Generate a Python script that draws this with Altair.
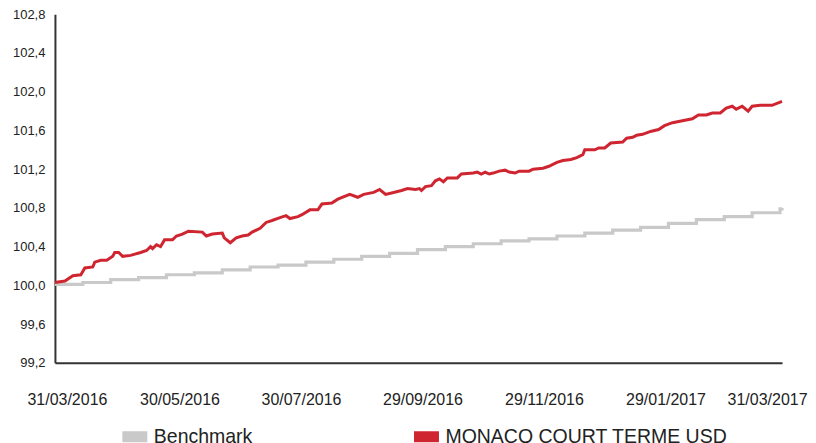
import altair as alt
import pandas as pd

START = "2016-03-31"

fund_name = "MONACO COURT TERME USD"
bench_name = "Benchmark"

fund_days = [0, 5, 9, 13, 15, 19, 20, 23, 26, 29, 30, 32, 34, 38, 43, 46, 48, 49, 51, 53,
             55, 59, 61, 64, 67, 74, 76, 79, 84, 85, 88, 91, 94, 97, 99, 103, 106, 109, 113, 116,
             118, 122, 124, 128, 132, 134, 139, 142, 148, 152, 155, 160, 163, 166, 170, 174, 177, 181, 183, 184,
             186, 189, 191, 193, 195, 197, 202, 204, 210, 212, 214, 216, 218, 220, 223, 226, 228, 231, 233, 238,
             240, 245, 248, 252, 255, 259, 262, 265, 266, 271, 273, 276, 279, 285, 287, 290, 292, 295, 299, 303,
             306, 310, 315, 320, 323, 327, 330, 334, 337, 340, 342, 345, 348, 350, 354, 360, 365]
fund_values = [100.03, 100.045, 100.10, 100.11, 100.18, 100.19, 100.24, 100.26, 100.26, 100.30,
               100.34, 100.34, 100.30, 100.31, 100.34, 100.36, 100.40, 100.38, 100.42, 100.40,
               100.47, 100.47, 100.51, 100.53, 100.56, 100.55, 100.51, 100.53, 100.54, 100.49,
               100.44, 100.49, 100.51, 100.52, 100.55, 100.59, 100.65, 100.67, 100.70, 100.72,
               100.69, 100.71, 100.73, 100.78, 100.78, 100.84, 100.85, 100.89, 100.94, 100.91,
               100.94, 100.96, 100.99, 100.94, 100.96, 100.98, 101.00, 100.99, 101.00, 100.98,
               101.02, 101.03, 101.08, 101.10, 101.07, 101.11, 101.11, 101.15, 101.16, 101.17,
               101.15, 101.17, 101.15, 101.16, 101.18, 101.19, 101.17, 101.16, 101.18, 101.18,
               101.20, 101.21, 101.23, 101.27, 101.29, 101.30, 101.32, 101.35, 101.40, 101.40,
               101.42, 101.42, 101.47, 101.48, 101.52, 101.53, 101.55, 101.56, 101.59, 101.61,
               101.65, 101.68, 101.70, 101.72, 101.76, 101.76, 101.78, 101.78, 101.83, 101.85,
               101.82, 101.85, 101.80, 101.85, 101.86, 101.86, 101.90]

bench_days = [0, 14, 28, 42, 56, 70, 84, 98, 112, 126, 140, 154, 168, 182, 196, 210, 224, 238,
              252, 266, 280, 294, 308, 322, 336, 350, 364, 365]
bench_values = [100.01, 100.03, 100.06, 100.08, 100.11, 100.13, 100.16, 100.19, 100.21, 100.24,
                100.27, 100.30, 100.33, 100.37, 100.40, 100.43, 100.46, 100.48, 100.51, 100.54,
                100.57, 100.60, 100.64, 100.68, 100.71, 100.75, 100.79, 100.80]

x_tick_dates = ["2016-03-31", "2016-05-30", "2016-07-30", "2016-09-29",
                "2016-11-29", "2017-01-29", "2017-03-31"]
y_ticks = [99.2, 99.6, 100.0, 100.4, 100.8, 101.2, 101.6, 102.0, 102.4, 102.8]

RED = "#cf2531"
GRAY = "#c9c9c9"
FONT = "Liberation Sans"

base = pd.Timestamp(START)


def to_dates(days):
    return [(base + pd.Timedelta(days=d)).strftime("%Y-%m-%d") for d in days]


df_fund = pd.DataFrame({"date": to_dates(fund_days), "value": fund_values, "series": fund_name})
df_bench = pd.DataFrame({"date": to_dates(bench_days), "value": bench_values, "series": bench_name})


def dt(s):
    y, m, d = [int(p) for p in s.split("-")]
    return alt.DateTime(year=y, month=m, date=d, utc=True)


x_enc = alt.X(
    "date:T",
    scale=alt.Scale(type="utc", domain=[dt(x_tick_dates[0]), dt(x_tick_dates[-1])], nice=False),
    axis=alt.Axis(values=[dt(s) for s in x_tick_dates], format="%d/%m/%Y", formatType="time",
                  labelFontSize=16, labelPadding=29, labelFlush=False, labelOverlap=False,
                  labelOffset=alt.ExprRef("datum.index == 0 ? 12 : (datum.index == 1 ? -15 : 5)"),
                  title=None),
)
y_enc = alt.Y(
    "value:Q",
    scale=alt.Scale(domain=[y_ticks[0], y_ticks[-1]], nice=False, zero=False),
    axis=alt.Axis(values=y_ticks, labelExpr="replace(format(datum.value, '.1f'), '.', ',')",
                  labelFontSize=13, labelPadding=10, title=None),
)
color_enc = alt.Color(
    "series:N",
    scale=alt.Scale(domain=[bench_name, fund_name], range=[GRAY, RED]),
    legend=alt.Legend(
        title=None, orient="none", legendX=62, legendY=405, direction="horizontal",
        columns=2, columnPadding=139, labelFontSize=19.5, labelFont=FONT, labelColor="#222",
        labelOffset=1, symbolType="M-1,0H1", symbolSize=625,
        symbolStrokeWidth=11, padding=0, labelLimit=400,
    ),
)

bench_line = alt.Chart(df_bench).mark_line(strokeWidth=3.2, interpolate="step-after").encode(
    x=x_enc, y=y_enc, color=color_enc
)
fund_line = alt.Chart(df_fund).mark_line(strokeWidth=3).encode(
    x=x_enc, y=y_enc, color=color_enc
)

chart = alt.layer(bench_line, fund_line).properties(
    width=728, height=349, padding={"left": 4, "top": 0, "right": 0, "bottom": 0}
).configure_view(stroke=None).configure_axis(
    domainColor="#333", domainWidth=2, ticks=False, grid=False,
    labelFont=FONT, labelColor="#222"
)

chart.save("out.html", embed_options={"renderer": "svg", "actions": False})
